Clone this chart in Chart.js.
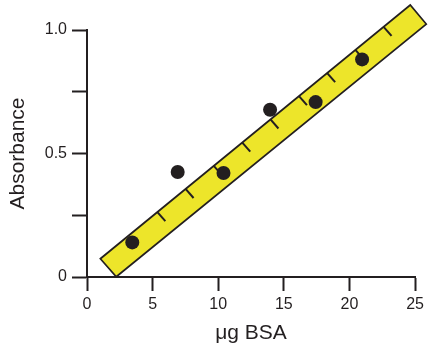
<!DOCTYPE html>
<html>
<head>
<meta charset="utf-8">
<script src="https://cdn.jsdelivr.net/npm/chart.js@4/dist/chart.umd.min.js"></script>
<style>
  body { margin: 0; background: #fff; }
  #wrap { width: 428px; height: 348px; }
</style>
</head>
<body>
<div id="wrap"><canvas id="absChart" width="428" height="348"></canvas></div>
<script>
// measured points: µg BSA vs absorbance
const bsaValues = [3.45, 6.91, 10.4, 13.95, 17.42, 20.96];
const absValues = [0.140, 0.425, 0.421, 0.677, 0.708, 0.881];

// yellow "ruler" fit band, corners in data units (x, y)
const rulerX = [1.02, 2.23, 25.85, 24.63];
const rulerY = [0.074, 0.001, 1.024, 1.101];
// tick marks along the upper edge, as fraction of its length
const rulerTicks = [0.184, 0.275, 0.366, 0.458, 0.549, 0.641, 0.732, 0.823, 0.914];

const xTicks = [0, 5, 10, 15, 20, 25];
const yLabels = { 0: '0', 0.5: '0.5', 1: '1.0' };

const ink = '#231f20';

const rulerPlugin = {
    id: 'ruler',
    beforeDatasetsDraw(chart) {
        const { ctx, scales: { x, y } } = chart;
        const pts = rulerX.map((v, i) => [x.getPixelForValue(v), y.getPixelForValue(rulerY[i])]);
        ctx.save();
        ctx.beginPath();
        pts.forEach(([px, py], i) => i ? ctx.lineTo(px, py) : ctx.moveTo(px, py));
        ctx.closePath();
        ctx.fillStyle = '#ede52a';
        ctx.fill();
        ctx.lineWidth = 1.7;
        ctx.strokeStyle = ink;
        ctx.stroke();
        // ticks start on the top edge (corner 0 -> 3) and point toward corner 1
        const [a, b, , d] = pts;
        ctx.lineWidth = 2;
        rulerTicks.forEach(t => {
            const sx = a[0] + (d[0] - a[0]) * t;
            const sy = a[1] + (d[1] - a[1]) * t;
            ctx.beginPath();
            ctx.moveTo(sx, sy);
            ctx.lineTo(sx + (b[0] - a[0]) * 0.5, sy + (b[1] - a[1]) * 0.5);
            ctx.stroke();
        });
        ctx.restore();
    }
};

const tickFont = { family: '"Liberation Sans", Arial, sans-serif', size: 16 };
const titleFont = { family: '"Liberation Sans", Arial, sans-serif', size: 21 };

new Chart(document.getElementById('absChart'), {
    type: 'scatter',
    data: {
        datasets: [{
            data: bsaValues.map((v, i) => ({ x: v, y: absValues[i] })),
            backgroundColor: ink,
            borderWidth: 0,
            pointRadius: 7,
            pointHoverRadius: 7
        }]
    },
    options: {
        responsive: false,
        animation: false,
        layout: { padding: { left: 0, right: 11, top: 30, bottom: 0 } },
        plugins: { legend: { display: false }, tooltip: { enabled: false } },
        scales: {
            x: {
                type: 'linear',
                min: 0,
                max: 25,
                afterFit: s => { s.height = 71; },
                afterBuildTicks: s => { s.ticks = xTicks.map(v => ({ value: v })); },
                grid: { drawOnChartArea: false, tickLength: 14, tickWidth: 2, tickColor: ink },
                border: { display: true, color: ink, width: 2 },
                ticks: { color: ink, font: tickFont, padding: 4, maxRotation: 0 },
                title: { display: true, text: 'μg BSA', color: ink, font: titleFont, padding: { top: 0, bottom: 2 } }
            },
            y: {
                type: 'linear',
                min: 0,
                max: 1,
                afterFit: s => { s.width = 87; },
                ticks: {
                    stepSize: 0.25,
                    color: ink,
                    font: tickFont,
                    padding: 5,
                    callback: v => yLabels[v] !== undefined ? yLabels[v] : ''
                },
                grid: { drawOnChartArea: false, tickLength: 15, tickWidth: 2, tickColor: ink },
                border: { display: true, color: ink, width: 2 },
                title: { display: true, text: 'Absorbance', color: ink, font: titleFont, padding: { top: 6, bottom: 0 } }
            }
        }
    },
    plugins: [rulerPlugin]
});
</script>
</body>
</html>
